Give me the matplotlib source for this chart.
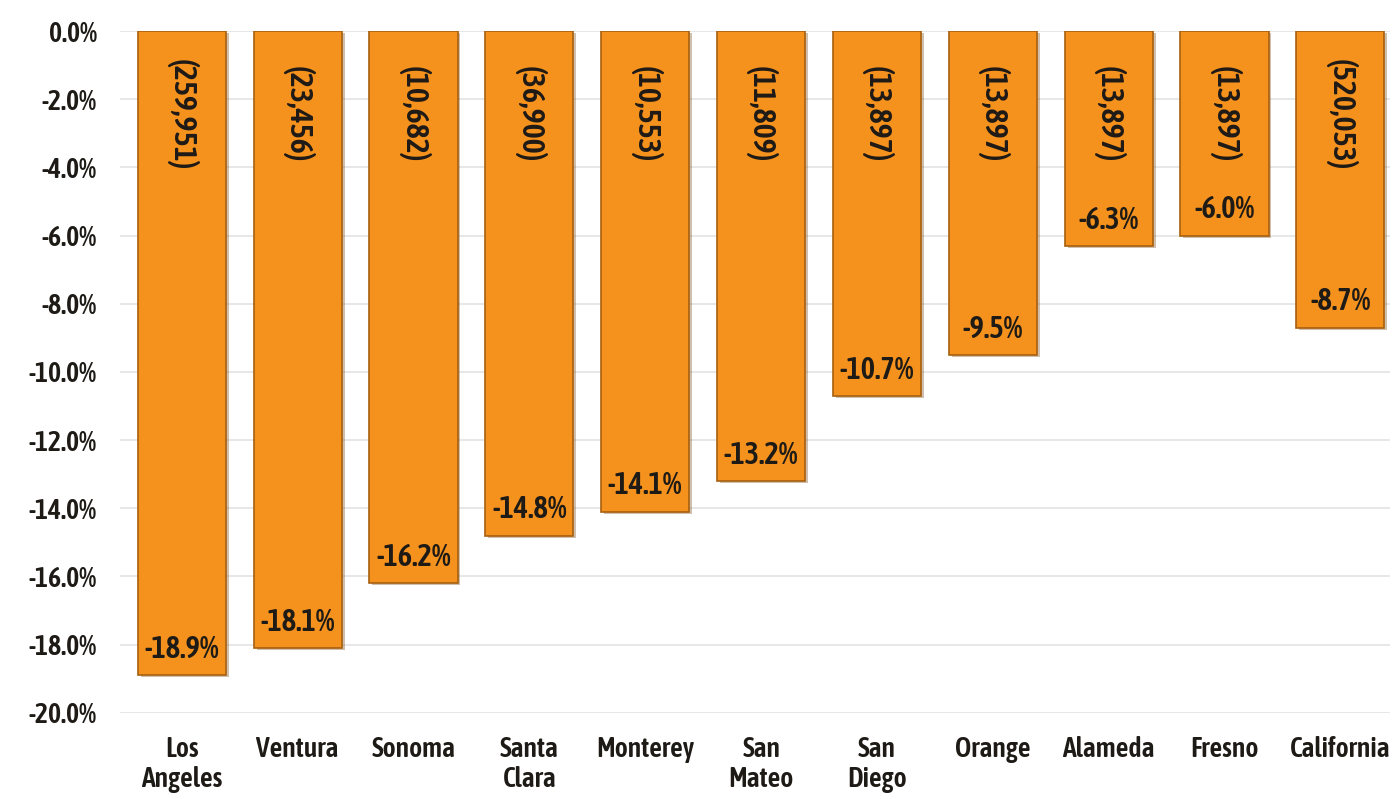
import matplotlib
matplotlib.use("Agg")
import matplotlib.pyplot as plt
from matplotlib import font_manager
import matplotlib.patheffects as pe
import numpy as np

counties = ["Los\nAngeles", "Ventura", "Sonoma", "Santa\nClara", "Monterey", "San\nMateo",
            "San\nDiego", "Orange", "Alameda", "Fresno", "California"]
pct_change = [-18.9, -18.1, -16.2, -14.8, -14.1, -13.2, -10.7, -9.5, -6.3, -6.0, -8.7]
job_losses = ["(259,951)", "(23,456)", "(10,682)", "(36,900)", "(10,553)", "(11,809)",
              "(13,897)", "(13,897)", "(13,897)", "(13,897)", "(520,053)"]
y_ticks = np.arange(0, -21, -2)

# the original looks like Arial Narrow Bold; pick the closest narrow face we have
def weight_num(w):
    if isinstance(w, int):
        return w
    return {"bold": 700, "semibold": 600, "demibold": 600, "heavy": 800,
            "black": 900}.get(str(w).lower(), 400)

narrow = [f for f in font_manager.fontManager.ttflist
          if "Narrow" in f.name or "Condensed" in f.name]
semi = [f for f in narrow if weight_num(f.weight) == 600]
bold_narrow = [f for f in narrow if weight_num(f.weight) >= 700]
fake_bold = False
if semi:
    family, fw = semi[0].name, 600
elif bold_narrow:
    family, fw = bold_narrow[0].name, "bold"
elif narrow:
    family, fw, fake_bold = narrow[0].name, "normal", True
else:
    family, fw = "Liberation Sans", "bold"
plt.rcParams['font.family'] = [family, 'DejaVu Sans']
plt.rcParams['font.weight'] = fw

txt = "#1e1a16"
effects = [pe.withStroke(linewidth=0.9, foreground=txt)] if fake_bold else []

fig = plt.figure(figsize=(14, 7.99), dpi=100)
ax = fig.add_axes([0.086, 0.108, 0.907, 0.853])

x = np.arange(len(counties))
orange = "#F5921E"

# soft shadow under each bar
ax.bar(x + 0.025, pct_change, width=0.76, bottom=-0.06, color="#7a4a12", alpha=0.35,
       zorder=2, linewidth=0)
ax.bar(x, pct_change, width=0.76, color=orange, edgecolor="#a8600f",
       linewidth=1.2, zorder=3)

for xi, v, lab in zip(x, pct_change, job_losses):
    ax.text(xi, -2.45, lab, rotation=270, ha="center", va="center", fontsize=23,
            color=txt, zorder=4, fontweight=fw, path_effects=effects)
    ax.text(xi, v + 0.3, f"{v:.1f}%", ha="center", va="bottom", fontsize=22,
            color=txt, zorder=4, fontweight=fw, path_effects=effects)

ax.set_ylim(-20, 0)
ax.set_xlim(-0.53, 10.43)
ax.set_yticks(y_ticks)
ax.set_yticklabels([f"{t:.1f}%" for t in y_ticks])
ax.set_xticks(x)
ax.set_xticklabels(counties, fontsize=20, color=txt, linespacing=1.15)
for lbl in ax.get_xticklabels() + ax.get_yticklabels():
    lbl.set_path_effects(effects)
ax.tick_params(axis="y", labelsize=20, labelcolor=txt, length=0, pad=17)
ax.tick_params(axis="x", length=0, pad=17)
ax.yaxis.grid(True, color="#e3e3e3", linewidth=1.2, zorder=0)
ax.set_axisbelow(True)
for s in ax.spines.values():
    s.set_visible(False)

fig.savefig("out.png", dpi=100)
